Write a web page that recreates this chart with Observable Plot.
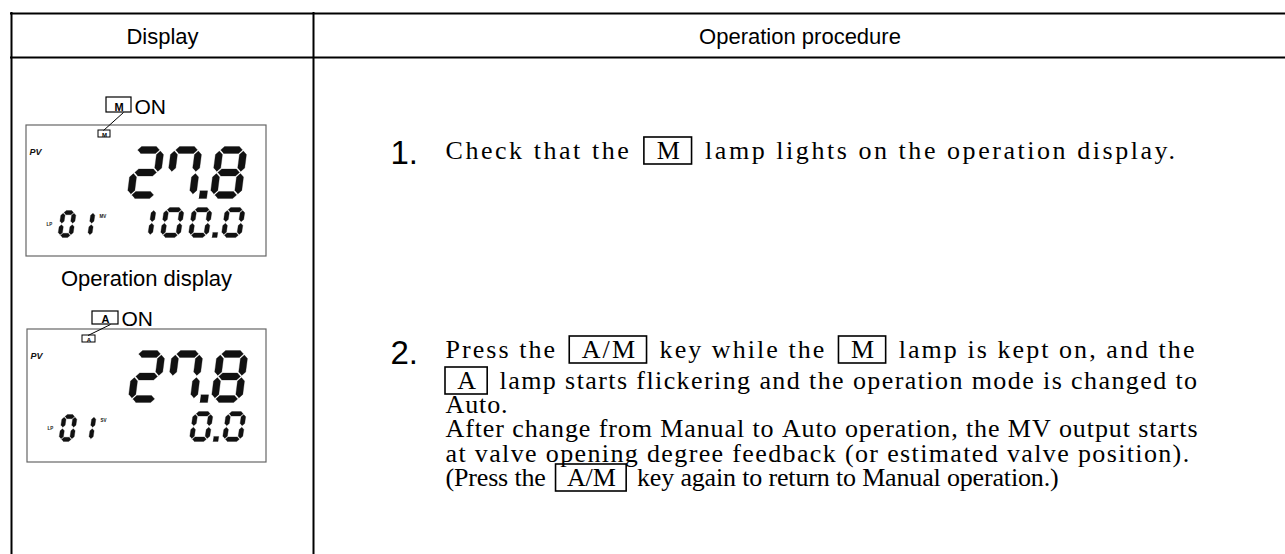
<!DOCTYPE html>
<html><head><meta charset="utf-8">
<script src="https://cdn.jsdelivr.net/npm/d3@7"></script>
<script src="https://cdn.jsdelivr.net/npm/@observablehq/plot@0.6"></script>
<style>body{margin:0;background:#fff}</style>
</head><body><div id="chart"></div>
<script>
// ---------- content ----------
const headers = ["Display", "Operation procedure"];
const displayCaption = "Operation display";
const lampNames = ["M", "A"];
const lampState = "ON";
const pvLabel = "PV";
const pvValues = ["27.8", "27.8"];
const loopLabel = "LP";
const loopValues = ["01", "01"];
const lowerLabels = ["MV", "SV"];
const lowerValues = ["100.0", "0.0"];
const stepNumbers = ["1.", "2."];
const step1Lines = ["Check that the [M] lamp lights on the operation display."];
const step2Lines = [
  "Press the [A/M] key while the [M] lamp is kept on, and the",
  "[A] lamp starts flickering and the operation mode is changed to",
  "Auto.",
  "After change from Manual to Auto operation, the MV output starts",
  "at valve opening degree feedback (or estimated valve position).",
  "(Press the [A/M] key again to return to Manual operation.)"
];

// ---------- layout ----------
const W = 1285, H = 554;
const serif = "Liberation Serif, Times New Roman, serif";
const sans = "Liberation Sans, Arial, sans-serif";
const F = 26, LS = 0.9, padX = 11, boxGap = 4;
const textLeft = 445;
const step1Ends = [1177];
const step2Ends = [1196, 1198, null, 1198, 1190, 1058];
const step1Baselines = [158];
const step2Baselines = [357, 388, 412, 436, 461, 485];
const stepNumberX = 390;
const table = {left: 11, top: 13, headerBottom: 57, divider: 313};
const lcds = [
  {x1: 26, y1: 125, x2: 266, y2: 256, lamp: {x1: 106, x2: 131, y1: 97, y2: 112}, small: {x1: 98, x2: 110, y1: 130, y2: 137}},
  {x1: 27, y1: 329, x2: 266, y2: 462, lamp: {x1: 92, x2: 118, y1: 311, y2: 324}, small: {x1: 82, x2: 95, y1: 335, y2: 342}}
];

// ---------- text layout ----------
const ctx = document.createElement("canvas").getContext("2d");
ctx.font = `${F}px "Liberation Serif"`;
const nat = s => ctx.measureText(s).width;
function tokens(line) {
  return line.split(" ").map(w => w.startsWith("[") ? {text: w.slice(1, -1), box: true} : {text: w, box: false});
}
function layoutLine(line, baseline, endX, label) {
  const toks = tokens(line);
  let base = 0, n = 0;
  toks.forEach((t, i) => {
    base += nat(t.text); n += t.text.length;
    if (t.box) base += 2 * padX + (i > 0 ? boxGap : 0) + (i < toks.length - 1 ? boxGap : 0);
    if (i < toks.length - 1) { base += nat(" "); n += 1; }
  });
  const ls = endX != null ? (endX - textLeft - base) / n : LS;
  let x = textLeft;
  const words = [], boxes = [];
  toks.forEach((t, i) => {
    const tw = nat(t.text) + ls * t.text.length;
    if (t.box) {
      if (i > 0) x += boxGap;
      boxes.push({x1: x, x2: x + tw + 2 * padX, y1: baseline - 21, y2: baseline + 6});
      words.push({x: x + padX + ls / 2, y: baseline, text: t.text});
      x += tw + 2 * padX;
      if (i < toks.length - 1) x += boxGap;
    } else {
      words.push({x, y: baseline, text: t.text});
      x += tw;
    }
    if (i < toks.length - 1) x += nat(" ") + ls;
  });
  return {words, boxes, ls, label};
}
const lines = [
  ...step1Lines.map((l, i) => layoutLine(l, step1Baselines[i], step1Ends[i], `s1-${i}`)),
  ...step2Lines.map((l, i) => layoutLine(l, step2Baselines[i], step2Ends[i], `s2-${i}`))
];
const allBoxes = lines.flatMap(l => l.boxes);

// ---------- seven-segment digits ----------
const SEGMENTS = {"0": "abcdef", "1": "bc", "2": "abged", "3": "abgcd", "4": "fgbc", "5": "afgcd",
  "6": "afgedc", "7": "abcf", "8": "abcdefg", "9": "abcdfg"};
function segPoly(seg, w, h, t) {
  const g = t * 0.16, ht = t / 2, h2 = h / 2;
  const horiz = vy => { const L = ht + g, R = w - ht - g;
    return [[L, vy], [L + ht, vy + ht], [R - ht, vy + ht], [R, vy], [R - ht, vy - ht], [L + ht, vy - ht]]; };
  const vert = (ux, v1, v2) => { const B = v1 + g, T = v2 - g;
    return [[ux, B], [ux + ht, B + ht], [ux + ht, T - ht], [ux, T], [ux - ht, T - ht], [ux - ht, B + ht]]; };
  switch (seg) {
    case "a": return horiz(h - ht);
    case "g": return horiz(h2);
    case "d": return horiz(ht);
    case "b": return vert(w - ht, h2, h - ht);
    case "c": return vert(w - ht, ht, h2);
    case "f": return vert(ht, h2, h - ht);
    case "e": return vert(ht, ht, h2);
  }
}
let polyId = 0;
function sevenSeg(str, opt) {
  const {w, h, t, s, p, dp} = opt;
  const chars = [...str];
  const nd = chars.filter(c => c !== ".").length;
  const nDots = chars.length - nd;
  const total = (nd - 1) * p + nDots * dp + w + s * h;
  let x = opt.xRight != null ? opt.xRight - total : opt.xLeft;
  const out = [];
  let last = null;
  const add = (pts, ox) => { const id = polyId++; pts.forEach(([u, v]) => out.push({x: ox + u + s * v, y: opt.yBase - v, id})); };
  for (const ch of chars) {
    if (ch === ".") {
      const cu = w + (p - w + dp) / 2, r = t * 0.55;
      add([[cu - r, 0], [cu + r, 0], [cu + r, 2 * r], [cu - r, 2 * r]], last);
      x += dp; continue;
    }
    for (const sg of SEGMENTS[ch]) add(segPoly(sg, w, h, t), x);
    last = x; x += p;
  }
  return out;
}

const bigOpt = {w: 31, h: 52, t: 7, s: 0.13, p: 38, dp: 7};
const midOpt = {w: 20, h: 30, t: 4.6, s: 0.15, p: 28, dp: 5};
const smallOpt = {w: 15, h: 27, t: 4.2, s: 0.15, p: 19, dp: 4};
const digitPolys = lcds.flatMap((L, i) => [
  ...sevenSeg(pvValues[i], {...bigOpt, xRight: L.x1 + 221, yBase: L.y1 + 73}),
  ...sevenSeg(loopValues[i], {...smallOpt, xLeft: L.x1 + 31, yBase: L.y1 + 112}),
  ...sevenSeg(lowerValues[i], {...midOpt, xRight: L.x1 + 219, yBase: L.y1 + 112})
]);

// ---------- plot ----------
const lcdLabels = lcds.map(L => ({x: L.x1 + 3, y: L.y1 + 29, text: pvLabel}));
const tinyLabels = lcds.flatMap((L, i) => [
  {x: L.x1 + 20, y: L.y1 + 100, text: loopLabel},
  {x: L.x1 + 73, y: L.y1 + 92, text: lowerLabels[i]}
]);
const lampBoxes = lcds.map((L, i) => ({...L.lamp, name: lampNames[i]}));
const smallBoxes = lcds.map((L, i) => ({...L.small, name: lampNames[i]}));
const leaders = lcds.map(L => ({x1: (L.small.x1 + L.small.x2) / 2 - 1, y1: L.small.y1, x2: L.lamp.x2 - 8, y2: L.lamp.y2}));

const marks = [
  // table grid
  Plot.ruleY([table.top, table.headerBottom], {x1: table.left - 1, x2: W, stroke: "#000", strokeWidth: 2}),
  Plot.ruleX([table.left, table.divider], {y1: table.top - 1, y2: H, stroke: "#000", strokeWidth: 2}),
  Plot.text(headers, {x: [(table.left + table.divider) / 2, (table.divider + W) / 2 + 0.5],
    y: (table.top + table.headerBottom) / 2 + 8, text: d => d, lineAnchor: "bottom",
    fontFamily: sans, fontSize: 22, fill: "#000"}),
  // LCD frames
  Plot.rect(lcds, {x1: "x1", x2: "x2", y1: "y1", y2: "y2", fill: "none", stroke: "#666", strokeWidth: 1.2}),
  Plot.line(digitPolys, {x: "x", y: "y", z: "id", fill: "#111", stroke: "#111", strokeWidth: 0.3}),
  Plot.text(lcdLabels, {x: "x", y: "y", text: "text", textAnchor: "start", lineAnchor: "bottom",
    fontFamily: sans, fontSize: 9, fontStyle: "italic", fontWeight: "bold", fill: "#111"}),
  Plot.text(tinyLabels, {x: "x", y: "y", text: "text", textAnchor: "start", lineAnchor: "bottom",
    fontFamily: sans, fontSize: 4.5, fontWeight: "bold", fill: "#111"}),
  // lamp indicators
  Plot.rect(lampBoxes, {x1: "x1", x2: "x2", y1: "y1", y2: "y2", fill: "#fff", stroke: "#000", strokeWidth: 1.2}),
  Plot.text(lampBoxes, {x: d => (d.x1 + d.x2) / 2, y: d => d.y2 - 2, text: "name", lineAnchor: "bottom",
    fontFamily: "Liberation Sans Narrow, Liberation Sans, sans-serif", fontSize: 11, fontWeight: "bold", fill: "#000"}),
  Plot.text(lampBoxes, {x: d => d.x2 + 3, y: d => d.y2 + 1, text: () => lampState, textAnchor: "start", lineAnchor: "bottom",
    fontFamily: sans, fontSize: 21, fill: "#000"}),
  Plot.rect(smallBoxes, {x1: "x1", x2: "x2", y1: "y1", y2: "y2", fill: "#fff", stroke: "#000", strokeWidth: 1}),
  Plot.text(smallBoxes, {x: d => (d.x1 + d.x2) / 2, y: d => d.y2 - 0.5, text: "name", lineAnchor: "bottom",
    fontFamily: sans, fontSize: 6, fontWeight: "bold", fill: "#000"}),
  Plot.link(leaders, {x1: "x1", y1: "y1", x2: "x2", y2: "y2", stroke: "#000", strokeWidth: 1}),
  Plot.text([displayCaption], {x: 146, y: 285, text: d => d, lineAnchor: "bottom", fontFamily: sans, fontSize: 22, fill: "#000"}),
  // step numbers
  Plot.text(stepNumbers, {x: stepNumberX, y: [step1Baselines[0] + 5, step2Baselines[0] + 6], text: d => d,
    textAnchor: "start", lineAnchor: "bottom", fontFamily: sans, fontSize: 33, fill: "#000"}),
  // key boxes
  Plot.rect(allBoxes, {x1: "x1", x2: "x2", y1: "y1", y2: "y2", fill: "none", stroke: "#000", strokeWidth: 1.6}),
  // procedure text lines (one mark per line so each can carry its own letter spacing)
  ...lines.map(l => Plot.text(l.words, {x: "x", y: "y", text: "text", textAnchor: "start", lineAnchor: "bottom",
    fontFamily: serif, fontSize: F, fill: "#000", ariaDescription: l.label}))
];

const svg = Plot.plot({
  width: W, height: H, margin: 0,
  x: {domain: [0, W], range: [0, W], axis: null},
  y: {domain: [0, H], range: [0, H], axis: null},
  style: {background: "#fff"},
  marks
});
lines.forEach(l => {
  const g = svg.querySelector(`g[aria-description="${l.label}"]`);
  if (g) g.setAttribute("letter-spacing", `${l.ls}px`);
});
document.getElementById("chart").appendChild(svg);
</script>
</body></html>
